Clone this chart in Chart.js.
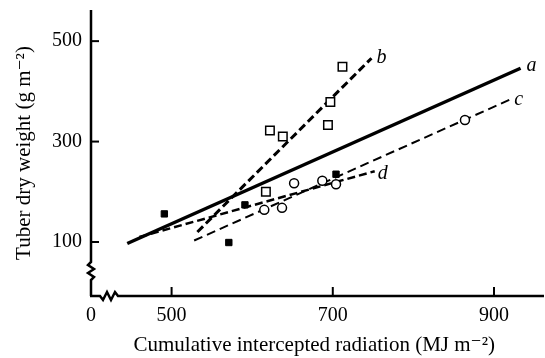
<!DOCTYPE html>
<html>
<head>
<meta charset="utf-8">
<script src="https://cdn.jsdelivr.net/npm/chart.js@4"></script>
<style>
  html, body { margin: 0; padding: 0; background: #fff; }
  #wrap { width: 545px; height: 358px; }
</style>
</head>
<body>
<div id="wrap"><canvas id="chart" width="545" height="358"></canvas></div>
<script>
// broken x axis: 400 is drawn as "0"
const xTicks = [400, 500, 700, 900]
const yTicks = [100, 300, 500]

// fitted lines, two end points each
const lineNames = ['a', 'b', 'c', 'd']
const lineX = [[445, 933], [532, 748], [528, 919], [460, 752]]
const lineY = [[97, 446], [120, 466], [103, 383], [110, 241]]

// observations
const filledX = [491, 571, 591, 704]
const filledY = [156, 99, 174, 235]
const openSqX = [617, 622, 638, 694, 697, 712]
const openSqY = [200, 322, 310, 333, 379, 449]
const circleX = [615, 637, 652, 687, 704, 864]
const circleY = [164, 168, 217, 222, 215, 343]

const serif = '"Liberation Serif", "DejaVu Serif", serif'
const pts = (xs, ys) => xs.map((x, i) => ({ x: x, y: ys[i] }))

const lineStyle = [
  { borderWidth: 3.5, borderDash: [] },
  { borderWidth: 3, borderDash: [8, 4] },
  { borderWidth: 2, borderDash: [9, 5] },
  { borderWidth: 2.5, borderDash: [8, 4] }
]
const labelOffset = [[6, -3], [5, 0], [5, 0], [3, 3]]

const datasets = lineNames.map((name, i) => ({
  label: name,
  data: pts(lineX[i], lineY[i]),
  showLine: true,
  borderColor: '#000',
  borderWidth: lineStyle[i].borderWidth,
  borderDash: lineStyle[i].borderDash,
  pointRadius: 0,
  order: 2
}))
datasets.push({
  label: 'filled', data: pts(filledX, filledY), pointStyle: 'rect',
  pointRadius: 4.5, backgroundColor: '#000', borderColor: '#000', borderWidth: 1, order: 1
})
datasets.push({
  label: 'open square', data: pts(openSqX, openSqY), pointStyle: 'rect',
  pointRadius: 6, backgroundColor: '#fff', borderColor: '#000', borderWidth: 1.5, order: 1
})
datasets.push({
  label: 'circle', data: pts(circleX, circleY), pointStyle: 'circle',
  pointRadius: 4.5, backgroundColor: '#fff', borderColor: '#000', borderWidth: 1.5, order: 1
})

const axesPlugin = {
  id: 'axes',
  afterDraw(chart) {
    const ctx = chart.ctx
    const xs = chart.scales.x, ys = chart.scales.y
    const left = chart.chartArea.left, bottom = chart.chartArea.bottom
    const top = chart.chartArea.top
    ctx.save()
    ctx.strokeStyle = '#000'
    ctx.lineWidth = 2.5
    ctx.lineCap = 'butt'

    // y axis with zigzag break
    const yb1 = 262, yb2 = 280
    ctx.beginPath()
    ctx.moveTo(left, top)
    ctx.lineTo(left, yb1)
    ctx.lineTo(left - 3, yb1 + 3)
    ctx.lineTo(left + 3, yb1 + 7)
    ctx.lineTo(left - 3, yb1 + 11)
    ctx.lineTo(left + 3, yb1 + 15)
    ctx.lineTo(left, yb2)
    ctx.lineTo(left, bottom)
    ctx.stroke()

    // x axis with zigzag break, runs to the edge of the figure
    const xb1 = 100, xb2 = 118
    ctx.beginPath()
    ctx.moveTo(left - 1, bottom)
    ctx.lineTo(xb1, bottom)
    ctx.lineTo(xb1 + 3, bottom + 4)
    ctx.lineTo(xb1 + 7, bottom - 4)
    ctx.lineTo(xb1 + 11, bottom + 4)
    ctx.lineTo(xb1 + 15, bottom - 4)
    ctx.lineTo(xb2, bottom)
    ctx.lineTo(chart.width - 1, bottom)
    ctx.stroke()

    // inward ticks
    ctx.lineWidth = 2
    xTicks.slice(1).forEach(v => {
      const px = xs.getPixelForValue(v)
      ctx.beginPath()
      ctx.moveTo(px, bottom)
      ctx.lineTo(px, bottom - 9)
      ctx.stroke()
    })
    yTicks.forEach(v => {
      const py = ys.getPixelForValue(v)
      ctx.beginPath()
      ctx.moveTo(left, py)
      ctx.lineTo(left + 8, py)
      ctx.stroke()
    })

    // line letters
    ctx.fillStyle = '#000'
    ctx.font = 'italic 20px ' + serif
    ctx.textAlign = 'left'
    ctx.textBaseline = 'middle'
    lineNames.forEach((name, i) => {
      const px = xs.getPixelForValue(lineX[i][1])
      const py = ys.getPixelForValue(lineY[i][1])
      ctx.fillText(name, px + labelOffset[i][0], py + labelOffset[i][1])
    })
    ctx.restore()
  }
}

new Chart(document.getElementById('chart'), {
  type: 'scatter',
  data: { datasets: datasets },
  plugins: [axesPlugin],
  options: {
    responsive: false,
    animation: false,
    layout: { padding: { top: 10, right: 1, left: 0, bottom: 0 } },
    plugins: { legend: { display: false }, tooltip: { enabled: false } },
    scales: {
      x: {
        type: 'linear',
        min: 400,
        max: 954,
        afterFit: s => { s.height = 62; s.paddingLeft = 0; s.paddingRight = 0 },
        afterBuildTicks: s => { s.ticks = xTicks.map(v => ({ value: v })) },
        grid: { display: false, drawTicks: false },
        border: { display: false },
        ticks: {
          padding: 8,
          color: '#000',
          font: { family: serif, size: 20 },
          maxRotation: 0,
          callback: v => v === 400 ? '0' : String(v)
        },
        title: {
          display: true,
          text: 'Cumulative intercepted radiation (MJ m\u207B\u00B2)',
          color: '#000',
          font: { family: serif, size: 21 },
          padding: { top: 0, bottom: 0 }
        }
      },
      y: {
        type: 'linear',
        min: -7.5,
        max: 562,
        afterFit: s => { s.width = 91; s.paddingTop = 0; s.paddingBottom = 0 },
        afterBuildTicks: s => { s.ticks = yTicks.map(v => ({ value: v })) },
        grid: { display: false, drawTicks: false },
        border: { display: false },
        ticks: {
          padding: 9,
          color: '#000',
          font: { family: serif, size: 20 }
        },
        title: {
          display: true,
          text: 'Tuber dry weight (g m\u207B\u00B2)',
          color: '#000',
          font: { family: serif, size: 21 },
          padding: { top: 12, bottom: 0 }
        }
      }
    }
  }
})
</script>
</body>
</html>
